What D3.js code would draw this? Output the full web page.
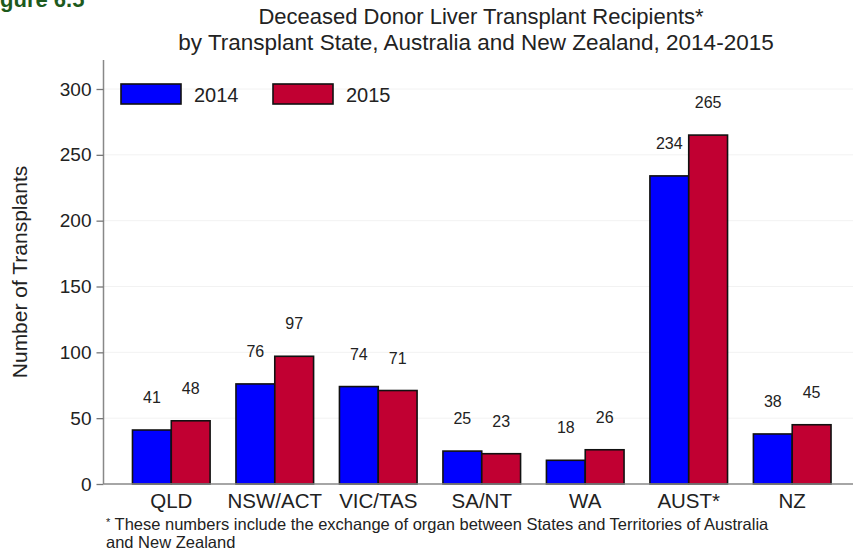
<!DOCTYPE html>
<html><head><meta charset="utf-8">
<script src="https://cdn.jsdelivr.net/npm/d3@7/dist/d3.min.js"></script>
<style>body{margin:0;background:#fff}svg{display:block;font-family:"Liberation Sans",Arial,sans-serif}</style>
</head><body>
<svg id="c" width="853" height="551"></svg>
<script>
const categories = ["QLD","NSW/ACT","VIC/TAS","SA/NT","WA","AUST*","NZ"];
const series = ["2014","2015"];
const values2014 = [41,76,74,25,18,234,38];
const values2015 = [48,97,71,23,26,265,45];
const yTicks = [0,50,100,150,200,250,300];
const colors = ["#0000ff","#c10032"];

const svg = d3.select("#c");
const x0 = d3.scaleBand().domain(categories).range([103.5, 860]).paddingInner(0.25).paddingOuter(0.28);
const x1 = d3.scaleBand().domain(series).range([0, x0.bandwidth()]);
const y = d3.scaleLinear().domain([0,300]).range([484, 89]);

// title
svg.append("text").attr("x",0).attr("y",7).attr("fill","#1d5a1d").attr("font-weight","bold").attr("font-size",22).text("gure 6.5");
svg.append("text").attr("x",481).attr("y",24).attr("text-anchor","middle").attr("font-size",22).attr("fill","#222").text("Deceased Donor Liver Transplant Recipients*");
svg.append("text").attr("x",476).attr("y",50).attr("text-anchor","middle").attr("font-size",22.5).attr("fill","#222").text("by Transplant State, Australia and New Zealand, 2014-2015");

// grid
svg.append("g").selectAll("line").data(yTicks.filter(d=>d>0)).join("line")
  .attr("x1",104).attr("x2",853).attr("y1",d=>y(d)).attr("y2",d=>y(d)).attr("stroke","#f2f2f2");

// y axis
const ya = svg.append("g").attr("transform","translate(103.5,0)")
  .call(d3.axisLeft(y).tickValues(yTicks).tickSize(7).tickPadding(5));
ya.select(".domain").attr("stroke","#888").attr("stroke-width",1.5).attr("d","M0,484V60");
ya.selectAll(".tick line").attr("stroke","#777").attr("stroke-width",1.3);
ya.selectAll(".tick text").attr("font-size",19).attr("fill","#222").attr("font-family","Liberation Sans, Arial, sans-serif");

svg.append("text").attr("transform","translate(27,272) rotate(-90)").attr("text-anchor","middle")
  .attr("font-size",21).attr("fill","#222").text("Number of Transplants");

// bars
const data = categories.map((c,i)=>({c, vals:[values2014[i], values2015[i]]}));
const g = svg.append("g").selectAll("g").data(data).join("g").attr("transform",d=>`translate(${x0(d.c)},0)`);
g.selectAll("rect").data(d=>d.vals.map((v,j)=>({s:series[j], v, j}))).join("rect")
  .attr("x",d=>x1(d.s)).attr("width",x1.bandwidth()).attr("y",d=>y(d.v)).attr("height",d=>y(0)-y(d.v))
  .attr("fill",d=>colors[d.j]).attr("stroke","#111").attr("stroke-width",1.6);
g.selectAll("text").data(d=>d.vals.map((v,j)=>({s:series[j], v, j}))).join("text")
  .attr("x",d=>x1(d.s)+x1.bandwidth()/2).attr("y",d=>y(d.v)-27).attr("text-anchor","middle")
  .attr("font-size",16).attr("fill","#222").text(d=>d.v);

// x axis
svg.append("line").attr("x1",103.5).attr("x2",853).attr("y1",484).attr("y2",484).attr("stroke","#888").attr("stroke-width",1.5);
svg.append("g").selectAll("text").data(categories).join("text")
  .attr("x",d=>x0(d)+x0.bandwidth()/2).attr("y",508).attr("text-anchor","middle")
  .attr("font-size",20.5).attr("fill","#222").text(d=>d);

// legend
const lg = svg.append("g").selectAll("g").data(series).join("g").attr("transform",(d,i)=>`translate(121+${0},84)`.replace("121+0",121+i*152));
lg.append("rect").attr("width",60).attr("height",20).attr("fill",(d,i)=>colors[i]).attr("stroke","#111").attr("stroke-width",1.6);
lg.append("text").attr("x",73).attr("y",18).attr("font-size",20).attr("fill","#222").text(d=>d);

// footnote
const fn = svg.append("text").attr("x",106).attr("y",530).attr("font-size",16.5).attr("fill","#222");
fn.append("tspan").attr("font-size",11).attr("dy",-4).text("*");
fn.append("tspan").attr("dy",4).text(" These numbers include the exchange of organ between States and Territories of Australia");
svg.append("text").attr("x",106).attr("y",548).attr("font-size",16.5).attr("fill","#222").text("and New Zealand");
</script>
</body></html>
